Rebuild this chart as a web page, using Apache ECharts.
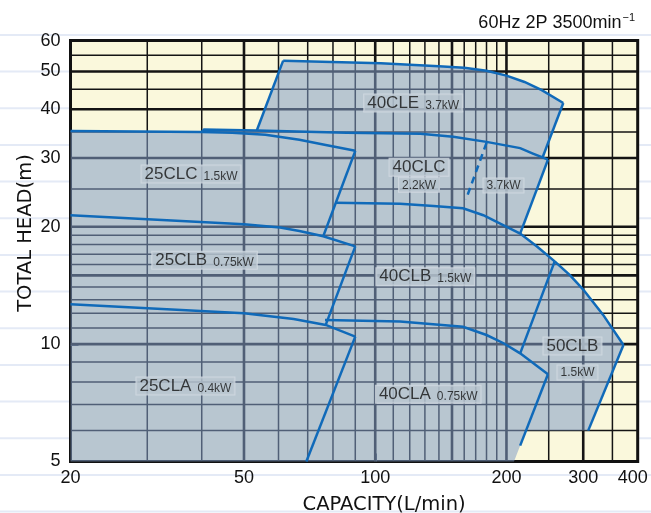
<!DOCTYPE html>
<html>
<head>
<meta charset="utf-8">
<script src="https://cdn.jsdelivr.net/npm/echarts@6/dist/echarts.min.js"></script>
<style>
html,body{margin:0;padding:0;background:#ffffff;}
#chart{width:651px;height:513px;}
</style>
</head>
<body>
<div id="chart"></div>
<script>
// ---------- axes ----------
const xRange = [20, 400];
const yRange = [5, 60];
const xTickLabels = [20, 50, 100, 200, 300, 400];
const yTickLabels = [5, 10, 20, 30, 40, 50, 60];
const xTickMark = [100];
const yTickMark = [10];
const xGridMajor = [50, 100, 150, 200, 300];
const xGridMinor = [30, 40, 60, 70, 80, 90, 110, 120, 130, 140, 160, 170, 180, 190, 250, 350];
const yGridMajor = [10, 15, 20, 30, 40, 50];
const yGridMinor = [6, 7, 8, 9, 11, 12, 13, 14, 16, 17, 18, 19, 25, 35, 45, 55];

// ---------- performance curves [capacity L/min, head m] ----------
const clc25Top  = [[20,35.2],[40,35.0],[47,34.8],[56,34.4],[67,33.4],[77,32.4],[90,31.3]];
const clc25Edge = [[90,31.3],[76,18.9]];
const clb25Top  = [[20,21.4],[50,20.3],[60.5,19.9],[67,19.5],[76,18.9],[90,17.8]];
const clb25Edge = [[90,17.8],[77,11.2]];
const cla25Top  = [[20,12.65],[50,12.0],[65,11.6],[77,11.2],[90,10.45]];
const cla25Edge = [[90,10.45],[69.5,5]];
const cle40Left = [[53.5,35.3],[61.5,53.3]];
const cle40Top  = [[61.5,53.3],[103,52.5],[140,51.6],[160,51.1],[180,50.2],[200,48.8],[220,47.0],[241,44.8],[270,41.5]];
const cle40Edge = [[270,41.5],[242,30.1]];
const clc40Top  = [[40,35.0],[40.5,35.5],[53.5,35.3],[86,34.8],[127,34.6],[151,34.0],[180,33.0],[215,31.8],[230,30.8],[242,30.1],[249,29.7]];
const clc40Edge = [[249,29.7],[215,19.2]];
const clc40Split = [[180,32.8],[161.5,23.5]];
const clb40Top  = [[81,23.05],[114,22.9],[136,22.6],[159,22.3],[177,21.4],[193,20.4],[215,19.2],[235,17.8],[258,16.3]];
const clb40Edge = [[258,16.3],[215,9.47]];
const clb50Top  = [[258,16.3],[280,15.0],[300,13.8],[333,11.9],[371,9.95]];
const clb50Edge = [[371,9.95],[308,6]];
const cla40Top  = [[76.7,11.53],[114,11.42],[159,11.08],[180,10.55],[197,10.05],[215,9.47],[249,8.37]];
const cla40Edge = [[249,8.37],[215,5.49]];

// ---------- labels ----------
const tagName  = ['25CLC','25CLB','25CLA','40CLE','40CLC','40CLB','40CLA','50CLB'];
const tagPower = ['1.5kW','0.75kW','0.4kW','3.7kW','','1.5kW','0.75kW',''];
const tagAt    = [[37.8,27.3],[40.6,16.4],[36.7,7.81],[122.2,41.5],[126,28.4],[130.3,14.89],[132.3,7.44],[283.4,9.89]];
const subPower = ['2.2kW','3.7kW','1.5kW'];
const subAt    = [[126,25.6],[196.9,25.5],[291,8.46]];

// ---------- build ----------
const FONT = "'Liberation Sans', Arial, Helvetica, sans-serif";
const NAME_FONT = "'DejaVu Sans', 'Liberation Sans', sans-serif";
const BLUE = '#106ab9';
const INK = '#111111';

function headAt(seg, h) {
  const x0 = seg[0][0], y0 = seg[0][1], x1 = seg[1][0], y1 = seg[1][1];
  const t = (Math.log(h) - Math.log(y0)) / (Math.log(y1) - Math.log(y0));
  return [Math.exp(Math.log(x0) + t * (Math.log(x1) - Math.log(x0))), h];
}

const outline = [].concat(
  [[xRange[0], yRange[0]]],
  clc25Top.filter(p => p[0] < clc40Top[0][0]),
  clc40Top.filter(p => p[0] <= cle40Left[0][0]),
  cle40Top,
  clc40Top.filter(p => p[0] >= cle40Edge[1][0]),
  clb40Top.filter(p => p[0] >= clc40Edge[1][0]),
  clb50Top.slice(1),
  clb50Edge.slice(1),
  [headAt(cla40Edge, clb50Edge[1][1]), headAt(cla40Edge, yRange[0])]
);

function gridSeries(values, vertical, width) {
  return {
    type: 'custom', z: 1, silent: true, animation: false,
    data: values.map(v => vertical ? [v, yRange[0]] : [xRange[0], v]),
    renderItem: function (params, api) {
      const v = vertical ? api.value(0) : api.value(1);
      const a = vertical ? api.coord([v, yRange[0]]) : api.coord([xRange[0], v]);
      const b = vertical ? api.coord([v, yRange[1]]) : api.coord([xRange[1], v]);
      return { type: 'line', shape: { x1: a[0], y1: a[1], x2: b[0], y2: b[1] },
               style: { stroke: '#141414', lineWidth: width } };
    }
  };
}

const solidCurves = [clc25Top, clc25Edge, clb25Top, clb25Edge, cla25Top, cla25Edge,
  cle40Left, cle40Top, cle40Edge, clc40Top, clc40Edge, clb40Top, clb40Edge,
  clb50Top, clb50Edge, cla40Top, cla40Edge];

const lineSeries = solidCurves.map(c => ({
  type: 'line', data: c, symbol: 'none', z: 3, silent: true, animation: false,
  lineStyle: { color: BLUE, width: 2.5, join: 'miter' }
}));
lineSeries.push({
  type: 'line', data: clc40Split, symbol: 'none', z: 3, silent: true, animation: false,
  lineStyle: { color: BLUE, width: 2.5, type: [7, 5] }
});

const boxStyle = {
  show: true, position: 'inside', color: INK, textBorderWidth: 0,
  backgroundColor: '#b9c6d0', borderColor: '#d4dce3', borderWidth: 1,
  padding: [1, 3, 0, 3],
  rich: {
    m: { fontSize: 17, fontFamily: FONT, color: INK, lineHeight: 16, verticalAlign: 'bottom' },
    p: { fontSize: 12, fontFamily: FONT, color: INK, lineHeight: 16, verticalAlign: 'bottom', padding: [0, 0, 0, 6] },
    q: { fontSize: 12, fontFamily: FONT, color: INK, lineHeight: 13 }
  }
};

const tagData = tagName.map((n, i) => ({
  value: tagAt[i],
  label: Object.assign({}, boxStyle, {
    formatter: tagPower[i] ? '{m|' + n + '}{p|' + tagPower[i] + '}' : '{m|' + n + '}'
  })
}));
const subData = subPower.map((p, i) => ({
  value: subAt[i],
  label: Object.assign({}, boxStyle, { formatter: '{q|' + p + '}' })
}));

const pageLines = Array.from({ length: 14 }, (_, k) => ({
  type: 'line', silent: true, z: -10,
  shape: { x1: 0, y1: 34.9 + 36.67 * k, x2: 651, y2: 34.9 + 36.67 * k },
  style: { stroke: '#e4eaf6', lineWidth: 2 }
}));

const tickFmt = v => {
  const s = String(Math.round(v));
  return Math.round(v) === xRange[1] ? '{e|' + s + '}' : s;
};

const option = {
  animation: false,
  backgroundColor: '#ffffff',
  graphic: { elements: pageLines },
  title: {
    text: '{a|60Hz 2P 3500min}{b|−1}',
    right: 11, top: 7,
    textStyle: {
      fontWeight: 'normal',
      rich: {
        a: { fontSize: 18, fontFamily: FONT, fontWeight: 'normal', color: INK, lineHeight: 22 },
        b: { fontSize: 11, fontFamily: FONT, fontWeight: 'normal', color: INK, lineHeight: 22, verticalAlign: 'top', padding: [0, 0, 0, 1] }
      }
    }
  },
  grid: {
    left: 70.5, right: 13.3, top: 40.6, bottom: 51.5,
    show: true, backgroundColor: '#faf8dc', borderColor: '#111', borderWidth: 3,
    containLabel: false, outerBoundsMode: 'none'
  },
  xAxis: {
    type: 'log', logBase: 10, min: xRange[0], max: xRange[1],
    axisLine: { show: false },
    axisTick: { show: true, inside: true, length: 8, customValues: xTickMark, lineStyle: { color: '#4b5664', width: 3 } },
    axisLabel: {
      customValues: xTickLabels, formatter: tickFmt, fontSize: 18, fontFamily: FONT, color: INK, margin: 8,
      rich: { e: { fontSize: 18, fontFamily: FONT, color: INK, padding: [0, 10, 0, 0] } }
    },
    splitLine: { show: false }, minorTick: { show: false }, minorSplitLine: { show: false },
    name: 'CAPACITY(L/min)', nameLocation: 'middle', nameGap: 33, nameMoveOverlap: false,
    nameTextStyle: { fontSize: 19.5, fontFamily: NAME_FONT, color: INK, padding: [0, 0, 0, 60] }
  },
  yAxis: {
    type: 'log', logBase: 10, min: yRange[0], max: yRange[1],
    axisLine: { show: false },
    axisTick: { show: true, inside: true, length: 8, customValues: yTickMark, lineStyle: { color: '#4b5664', width: 3 } },
    axisLabel: { customValues: yTickLabels, formatter: v => String(Math.round(v)), fontSize: 18, fontFamily: FONT, color: INK, margin: 10 },
    splitLine: { show: false }, minorTick: { show: false }, minorSplitLine: { show: false },
    name: 'TOTAL HEAD(m)', nameLocation: 'middle', nameGap: 35, nameMoveOverlap: false,
    nameTextStyle: { fontSize: 19.5, fontFamily: NAME_FONT, color: INK, padding: [0, 0, 0, 36] }
  },
  series: [
    gridSeries(xGridMinor, true, 1.5),
    gridSeries(yGridMinor, false, 1.5),
    gridSeries(xGridMajor, true, 2.6),
    gridSeries(yGridMajor, false, 2.6),
    {
      type: 'custom', z: 2, silent: true, animation: false,
      data: [[xRange[0], yRange[0]]],
      renderItem: function (params, api) {
        return { type: 'polygon', shape: { points: outline.map(p => api.coord(p)) },
                 style: { fill: 'rgba(130,157,198,0.55)' } };
      }
    }
  ].concat(lineSeries, [
    { type: 'scatter', z: 4, silent: true, animation: false, symbolSize: 0.1,
      itemStyle: { color: 'rgba(0,0,0,0)' }, data: tagData },
    { type: 'scatter', z: 4, silent: true, animation: false, symbolSize: 0.1,
      itemStyle: { color: 'rgba(0,0,0,0)' }, data: subData }
  ])
};

const chart = echarts.init(document.getElementById('chart'), null, { renderer: 'canvas' });
chart.setOption(option);
</script>
</body>
</html>
